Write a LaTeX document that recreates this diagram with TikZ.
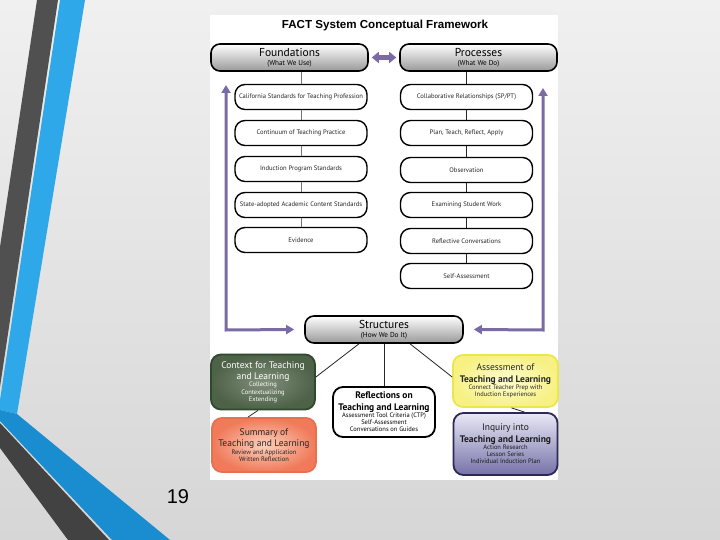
\documentclass[tikz,border=0pt]{standalone}
\usepackage{fontspec}
\setmainfont{PT Sans}
\newfontfamily\arialfont{Liberation Sans}
\usetikzlibrary{arrows.meta}
\definecolor{purp}{HTML}{7A6AA5}
\definecolor{bgtop}{HTML}{F0F0F0}
\definecolor{bgbot}{HTML}{D6D6D6}
\definecolor{stripdark}{HTML}{505050}
\definecolor{stripdark2}{HTML}{424242}
\definecolor{stripblue}{HTML}{2EA8E8}
\definecolor{stripblue2}{HTML}{1A8CD0}
\definecolor{ctxin}{HTML}{808E7A}
\definecolor{ctxout}{HTML}{4E6248}
\definecolor{ctxb}{HTML}{2D4A2C}
\definecolor{sumin}{HTML}{FBD0BC}
\definecolor{sumout}{HTML}{F07A5A}
\definecolor{sumb}{HTML}{E8704E}
\definecolor{asmin}{HTML}{FDFBD2}
\definecolor{asmout}{HTML}{F7F184}
\definecolor{asmb}{HTML}{EDE64A}
\definecolor{inqtop}{HTML}{E8E8F6}
\definecolor{inqbot}{HTML}{7672A8}
\definecolor{inqb}{HTML}{2C2858}
\newcommand\hdrtext[2]{{\fontsize{11.5}{12}\selectfont #1\par}{\fontsize{7.2}{8.5}\selectfont #2\par}}
\newcommand\lowtext[2]{{\fontsize{9.5}{11.5}\selectfont #1\par}{\fontsize{6.5}{7.2}\selectfont #2\par}}
\begin{document}
\begin{tikzpicture}[x=1pt,y=-1pt,
  hdr/.style={draw=black, line width=1.6pt, rounded corners=9pt, top color=white, bottom color=black!40,
    minimum width=157pt, minimum height=27pt, text width=150pt, inner sep=1pt, align=flush center},
  itembox/.style={draw=black, line width=1.4pt, rounded corners=10pt, fill=white,
    minimum width=132pt, minimum height=25pt, inner sep=1pt, font=\fontsize{6.6}{8}\selectfont, text=black!85},
  lowbox/.style={line width=1.8pt, rounded corners=10pt, inner sep=1pt, align=flush center, text width=100pt},
  conn/.style={draw=black!55, line width=0.9pt},
  bconn/.style={draw=black!85, line width=0.8pt},
  pline/.style={draw=purp, line width=3pt},
]
\useasboundingbox (0,0) rectangle (720,540);
% background
\shade[top color=bgtop, bottom color=bgbot] (0,0) rectangle (720,540);
% decorative strips
\fill[stripdark] (37,0) -- (58,0) -- (0,387) -- (0,247) -- cycle;
\fill[stripblue] (60,0) -- (85,0) -- (17,414) -- (0,410) -- (0,400) -- cycle;
\fill[stripblue2] (0,410) -- (17,414) -- (170,540) -- (112,540) -- (0,421) -- cycle;
\fill[stripdark2] (0,423) -- (109,540) -- (68,540) -- (0,448) -- cycle;
\node[font=\arialfont\fontsize{20}{22}\selectfont] (pg) at (178,497) {19};
% panel
\fill[white] (210,15) rectangle (558,480);
\node[font=\arialfont\bfseries\fontsize{11.6}{13}\selectfont] (title) at (385,26) {FACT System Conceptual Framework};
% headers
\node[hdr] (fd) at (289.5,57.5) {\hdrtext{Foundations}{(What We Use)}};
\node[hdr] (pr) at (478.5,57.5) {\hdrtext{Processes}{(What We Do)}};
% left items
\node[itembox] (l1) at (301,97) {California Standards for Teaching Profession};
\node[itembox] (l2) at (301,133) {Continuum of Teaching Practice};
\node[itembox] (l3) at (301,169) {Induction Program Standards};
\node[itembox] (l4) at (301,205) {State-adopted Academic Content Standards};
\node[itembox] (l5) at (301,240) {Evidence};
% right items
\node[itembox] (r1) at (466.5,97) {Collaborative Relationships (SP/PT)};
\node[itembox] (r2) at (466.5,133) {Plan, Teach, Reflect, Apply};
\node[itembox] (r3) at (466.5,170) {Observation};
\node[itembox] (r4) at (466.5,205) {Examining Student Work};
\node[itembox] (r5) at (466.5,241) {Reflective Conversations};
\node[itembox] (r6) at (466.5,276) {Self-Assessment};
% structures
\node[hdr, minimum width=158pt] (st) at (384,329.5) {\hdrtext{Structures}{(How We Do It)}};
% lower boxes
\node[lowbox, draw=ctxb, inner color=ctxin, outer color=ctxout, text=white,
  minimum width=104pt, minimum height=55pt] (ctx) at (263,382)
  {\lowtext{Context for Teaching\\and Learning}{Collecting\\Contextualizing\\Extending}};
\node[lowbox, draw=sumb, inner color=sumin, outer color=sumout, text=black!85,
  minimum width=104pt, minimum height=54pt] (sum) at (264,445)
  {\lowtext{Summary of\\Teaching and Learning}{Review and Application\\Written Reflection}};
\node[lowbox, draw=black, fill=white, text=black,
  minimum width=102pt, minimum height=50pt] (ref) at (384,412)
  {\lowtext{\textbf{Reflections on}\\\textbf{Teaching and Learning}}{Assessment Tool Criteria (CTP)\\Self-Assessment\\Conversations on Guides}};
\node[lowbox, draw=asmb, inner color=asmin, outer color=asmout, text=black!85,
  minimum width=105pt, minimum height=52pt] (asm) at (505.5,381)
  {\lowtext{Assessment of\\\textbf{Teaching and Learning}}{Connect Teacher Prep with\\Induction Experiences}};
\node[lowbox, draw=inqb, top color=inqtop, bottom color=inqbot, text=black!90,
  minimum width=104pt, minimum height=62pt] (inq) at (505.5,444)
  {\lowtext{Inquiry into\\\textbf{Teaching and Learning}}{Action Research\\Lesson Series\\Individual Induction Plan}};
% gray connectors (drawn between nodes)
\draw[conn] (l1.north |- fd.south) -- (l1.north);
\draw[conn] (l1.south) -- (l2.north);
\draw[conn] (l2.south) -- (l3.north);
\draw[conn] (l3.south) -- (l4.north);
\draw[conn] (l4.south) -- (l5.north);
\draw[bconn] (r1.north |- pr.south) -- (r1.north);
\draw[bconn] (r1.south) -- (r2.north);
\draw[bconn] (r2.south) -- (r3.north);
\draw[bconn] (r3.south) -- (r4.north);
\draw[bconn] (r4.south) -- (r5.north);
\draw[bconn] (r5.south) -- (r6.north);
% structures connectors
\draw[bconn] ([xshift=-25pt]st.south) -- ([yshift=5pt]ctx.east);
\draw[bconn] (st.south) -- (ref.north);
\draw[bconn] ([xshift=26pt]st.south) -- ([yshift=4pt]asm.west);
\draw[bconn] ([xshift=-5pt]ctx.south) -- ([xshift=-16pt]sum.north);
\draw[bconn] ([xshift=6pt]asm.south) -- ([xshift=19pt]inq.north);
% purple arrows
\coordinate (lt) at (226,85);
\coordinate (lc) at (226,330);
\coordinate (rt) at (543,88);
\coordinate (rc) at (543,330);
\draw[pline, {Triangle[width=9pt,length=8pt]}-{Triangle[width=9pt,length=8pt]}]
  (lt) -- (lc) -- ([xshift=-10pt]st.west);
\draw[pline, {Triangle[width=9pt,length=8pt]}-{Triangle[width=9pt,length=8pt]}]
  (rt) -- (rc) -- ([xshift=10pt]st.east);
\draw[draw=purp, line width=5pt, {Triangle[width=11pt,length=7pt]}-{Triangle[width=11pt,length=7pt]}]
  ([xshift=3pt]fd.east) -- ([xshift=-3pt]pr.west);
\end{tikzpicture}
\end{document}
